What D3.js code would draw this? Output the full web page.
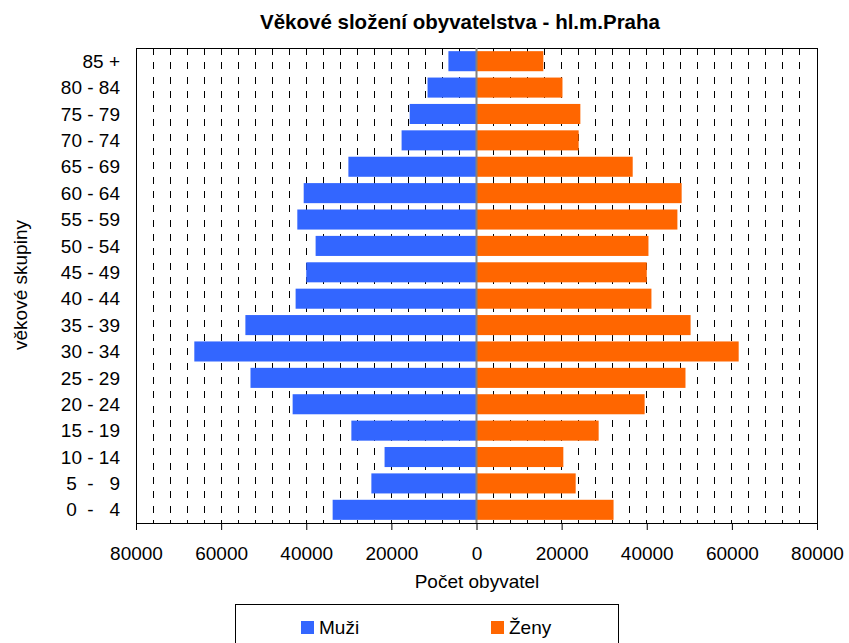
<!DOCTYPE html>
<html>
<head>
<meta charset="utf-8">
<script src="https://cdn.jsdelivr.net/npm/d3@7"></script>
<style>
  body { margin: 0; background: #fff; }
  text { font-family: "Liberation Sans", Arial, sans-serif; }
</style>
</head>
<body>
<div id="chart"></div>
<script>
// age groups, top to bottom as in the picture
const groups = ["85 +", "80 - 84", "75 - 79", "70 - 74", "65 - 69", "60 - 64", "55 - 59",
  "50 - 54", "45 - 49", "40 - 44", "35 - 39", "30 - 34", "25 - 29", "20 - 24",
  "15 - 19", "10 - 14", " 5  -   9", " 0  -   4"];
const muzi = [6600, 11500, 15700, 17600, 30100, 40600, 42100, 37800, 40000, 42500,
  54300, 66300, 53100, 43200, 29400, 21600, 24700, 33800];
const zeny = [15700, 20200, 24400, 24000, 36700, 48200, 47200, 40400, 40000, 41100,
  50300, 61600, 49100, 39500, 28700, 20400, 23300, 32200];
const xTicks = [-80000, -60000, -40000, -20000, 0, 20000, 40000, 60000, 80000];

const width = 849, height = 643;
const plot = { left: 136, right: 817, top: 48, bottom: 523 };

const svg = d3.select("#chart").append("svg")
  .attr("width", width).attr("height", height);

const x = d3.scaleLinear().domain([-80000, 80000]).range([plot.left, plot.right]);
const y = d3.scaleBand().domain(groups).range([plot.top, plot.bottom]).paddingInner(0.24).paddingOuter(0.12);

//dashed gridlines every 4000
const grid = d3.range(-76000, 80000, 4000).filter(d => d !== 0);
svg.append("g").selectAll("line").data(grid).enter().append("line")
  .attr("x1", d => x(d)).attr("x2", d => x(d))
  .attr("y1", plot.top).attr("y2", plot.bottom)
  .attr("stroke", "#000").attr("stroke-width", 1)
  .attr("stroke-dasharray", "7,7.3")
  .attr("shape-rendering", "crispEdges");

//bars
svg.append("g").selectAll("rect").data(groups).enter().append("rect")
  .attr("x", (d, i) => x(-muzi[i]))
  .attr("y", d => y(d))
  .attr("width", (d, i) => x(0) - x(-muzi[i]))
  .attr("height", y.bandwidth())
  .attr("fill", "#3366ff");
svg.append("g").selectAll("rect").data(groups).enter().append("rect")
  .attr("x", x(0))
  .attr("y", d => y(d))
  .attr("width", (d, i) => x(zeny[i]) - x(0))
  .attr("height", y.bandwidth())
  .attr("fill", "#ff6600");

//plot frame
svg.append("rect")
  .attr("x", plot.left).attr("y", plot.top)
  .attr("width", plot.right - plot.left).attr("height", plot.bottom - plot.top)
  .attr("fill", "none").attr("stroke", "#000").attr("shape-rendering", "crispEdges");
svg.append("line")
  .attr("x1", x(0)).attr("x2", x(0)).attr("y1", plot.top).attr("y2", plot.bottom)
  .attr("stroke", "#808080").attr("stroke-width", 2);

//x axis
const xAxis = d3.axisBottom(x).tickValues(xTicks).tickSize(7).tickFormat(d => Math.abs(d));
const gx = svg.append("g").attr("transform", `translate(0,${plot.bottom})`).call(xAxis);
gx.select(".domain").attr("stroke", "#000");
gx.selectAll(".tick line").attr("stroke", "#000");
gx.selectAll(".tick text").attr("font-size", 19).attr("dy", 0).attr("y", 37)
  .attr("fill", "#000").attr("font-family", "Liberation Sans, Arial, sans-serif");

//y labels
svg.append("g").selectAll("text").data(groups).enter().append("text")
  .attr("x", 120)
  .attr("y", d => y(d) + y.bandwidth() / 2)
  .attr("dy", "0.35em")
  .attr("text-anchor", "end")
  .attr("font-size", 19)
  .attr("xml:space", "preserve")
  .style("white-space", "pre")
  .text(d => d);

//titles
svg.append("text").attr("x", 460).attr("y", 29).attr("text-anchor", "middle")
  .attr("font-size", 20.5).attr("font-weight", "bold").text("Věkové složení obyvatelstva - hl.m.Praha");
svg.append("text").attr("x", 477).attr("y", 588).attr("text-anchor", "middle")
  .attr("font-size", 19).text("Počet obyvatel");
svg.append("text").attr("transform", "translate(27,285) rotate(-90)").attr("text-anchor", "middle")
  .attr("font-size", 19).text("věkové skupiny");

//legend
const legend = svg.append("g");
legend.append("rect").attr("x", 235.5).attr("y", 604.5).attr("width", 383).attr("height", 50)
  .attr("fill", "#fff").attr("stroke", "#000");
const items = [["Muži", "#3366ff", 301], ["Ženy", "#ff6600", 491]];
items.forEach(([name, color, lx]) => {
  legend.append("rect").attr("x", lx).attr("y", 621).attr("width", 13).attr("height", 13).attr("fill", color);
  legend.append("text").attr("x", lx + 18).attr("y", 634).attr("font-size", 19).text(name);
});
</script>
</body>
</html>
